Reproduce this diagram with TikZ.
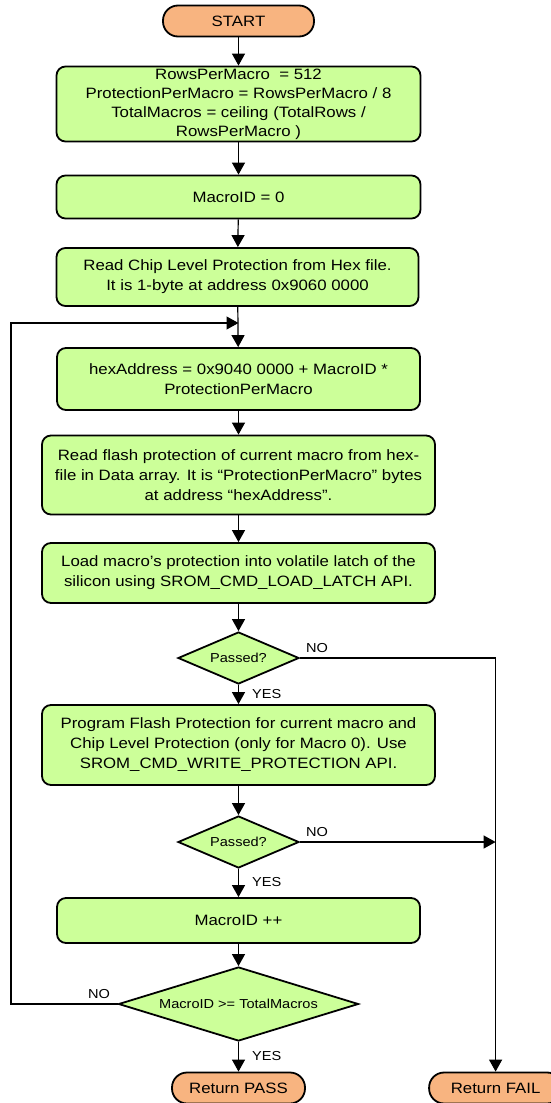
\documentclass[tikz,border=0pt]{standalone}
\usepackage{fontspec}
\setmainfont{Liberation Sans}[FakeStretch=1.12]
\usetikzlibrary{shapes.geometric,arrows.meta}
\definecolor{boxgreen}{RGB}{204,255,153}
\definecolor{termorange}{RGB}{248,180,128}
\newcommand{\mainsz}{\fontsize{15}{20}\selectfont}
\newcommand{\labsz}{\fontsize{13}{16}\selectfont}
\begin{document}
\begin{tikzpicture}[x=1pt,y=-1pt,
  proc/.style={draw, line width=1.8pt, fill=boxgreen, rounded corners=9pt, align=center, inner sep=0pt, font=\mainsz},
  term/.style={draw, line width=1.8pt, fill=termorange, rounded corners=15pt, align=center, inner sep=0pt, font=\mainsz, minimum height=31pt},
  decide/.style={draw, line width=1.8pt, fill=boxgreen, diamond, inner sep=0pt, font=\labsz},
  conn/.style={line width=1.2pt, -{Triangle[length=12pt,width=13pt]}},
  plain/.style={line width=1.2pt},
  lab/.style={font=\labsz, inner sep=0pt}
]
\useasboundingbox (0,0) rectangle (551,1103);

\node[term, minimum width=151pt] (start) at (238.5,21) {START};
\node[proc, minimum width=364pt, minimum height=75pt, font=\fontsize{15}{19}\selectfont] (b1) at (238.5,104)
  {RowsPerMacro\ \ = 512\\ProtectionPerMacro = RowsPerMacro / 8\\TotalMacros = ceiling (TotalRows /\\RowsPerMacro )};
\node[proc, minimum width=364pt, minimum height=43pt] (b2) at (238.5,197) {MacroID = 0};
\node[proc, minimum width=362pt, minimum height=58pt] (b3) at (237.5,277)
  {Read Chip Level Protection from Hex file.\\It is 1-byte at address 0x9060 0000};
\coordinate (join) at (238.5,323);
\node[proc, minimum width=363pt, minimum height=62pt] (b4) at (238.5,379)
  {hexAddress = 0x9040 0000 + MacroID *\\ProtectionPerMacro};
\node[proc, minimum width=393pt, minimum height=79pt] (b5) at (238.5,475)
  {Read flash protection of current macro from hex-\\file in Data array. It is “ProtectionPerMacro” bytes\\at address “hexAddress”.};
\node[proc, minimum width=393pt, minimum height=60pt] (b6) at (238.5,573)
  {Load macro’s protection into volatile latch of the\\silicon using SROM\_CMD\_LOAD\_LATCH API.};
\node[decide, minimum width=121pt, minimum height=52pt, aspect=2.3] (d1) at (238.5,658) {Passed?};
\node[proc, minimum width=393pt, minimum height=80pt] (b7) at (238.5,745)
  {Program Flash Protection for current macro and\\Chip Level Protection (only for Macro 0). Use\\SROM\_CMD\_WRITE\_PROTECTION API.};
\node[decide, minimum width=121pt, minimum height=52pt, aspect=2.3] (d2) at (238.5,842) {Passed?};
\node[proc, minimum width=363pt, minimum height=45pt] (b8) at (238.5,920.5) {MacroID ++};
\node[decide, minimum width=240pt, minimum height=74pt, aspect=3.2] (d3) at (238.5,1004) {MacroID >= TotalMacros};
\node[term, minimum width=133pt] (pass) at (238.5,1088) {Return PASS};
\node[term, minimum width=133pt] (fail) at (495.6,1088) {Return FAIL};
\coordinate (m2) at (fail.north |- d2.east);
\coordinate (lc) at (11,1004);

\draw[conn] (start) -- (b1);
\draw[conn] (b1) -- (b2);
\draw[conn] (b2) -- (b3);
\draw[conn] (b3) -- (b4);
\draw[conn] (b4) -- (b5);
\draw[conn] (b5) -- (b6);
\draw[conn] (b6) -- (d1);
\draw[conn] (d1) -- (b7);
\draw[conn] (d1.east) -| (fail.north);
\draw[conn] (b7) -- (d2);
\draw[conn] (d2.east) -- (m2);
\draw[conn] (d2) -- (b8);
\draw[conn] (b8) -- (d3);
\draw[conn] (d3) -- (pass);
\draw[conn] (d3.west) -- (lc) |- (join);

\node[lab, anchor=south west] at (306,653) {NO};
\node[lab, anchor=west] at (252,694) {YES};
\node[lab, anchor=south west] at (306,837) {NO};
\node[lab, anchor=west] at (252,882) {YES};
\node[lab, anchor=south] at (99,999) {NO};
\node[lab, anchor=west] at (252,1056) {YES};
\end{tikzpicture}
\end{document}
